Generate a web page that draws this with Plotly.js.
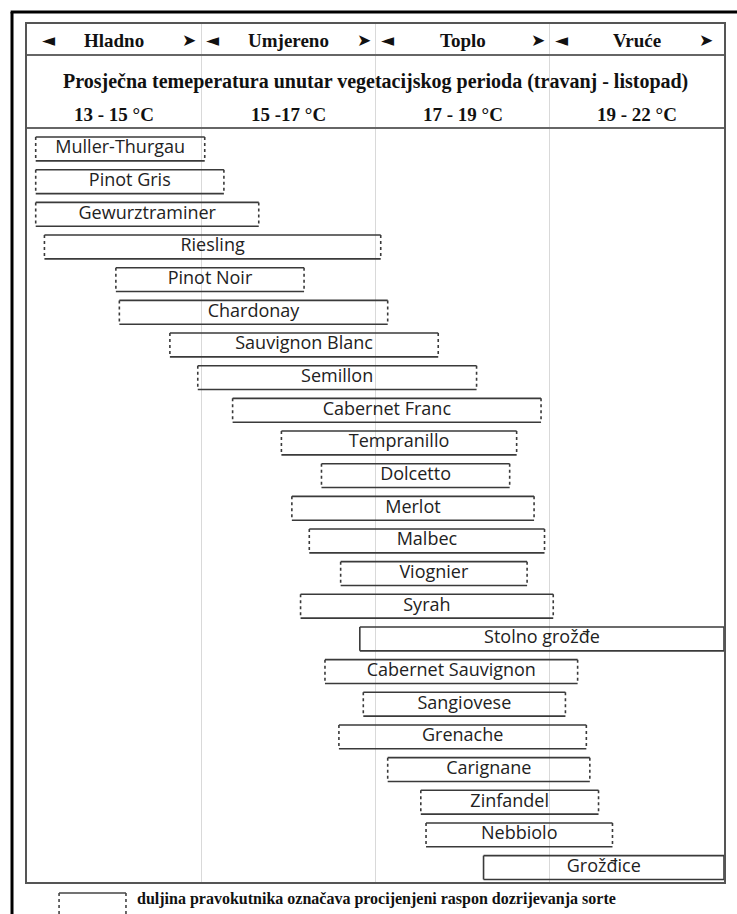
<!DOCTYPE html>
<html>
<head>
<meta charset="utf-8">
<script src="https://cdn.plot.ly/plotly-3.0.1.min.js"></script>
<style>
  body { margin: 0; background: #fff; }
  #chart { width: 737px; height: 914px; }
</style>
</head>
<body>
<div id="chart"></div>
<script>
// zones: one unit per zone on the x axis (0..4)
var zoneNames = ['Hladno', 'Umjereno', 'Toplo', 'Vruće'];
var zoneTemps = ['13 - 15 °C', '15 -17 °C', '17 - 19 °C', '19 - 22 °C'];

var sorte = ['Muller-Thurgau', 'Pinot Gris', 'Gewurztraminer', 'Riesling', 'Pinot Noir',
    'Chardonay', 'Sauvignon Blanc', 'Semillon', 'Cabernet Franc', 'Tempranillo',
    'Dolcetto', 'Merlot', 'Malbec', 'Viognier', 'Syrah', 'Stolno grožđe',
    'Cabernet Sauvignon', 'Sangiovese', 'Grenache', 'Carignane', 'Zinfandel',
    'Nebbiolo', 'Grožđice'];
var pocetak = [0.05, 0.05, 0.05, 0.10, 0.51, 0.53, 0.82, 0.98, 1.18, 1.46,
    1.69, 1.52, 1.62, 1.80, 1.57, 1.91, 1.71, 1.93, 1.79, 2.07, 2.26, 2.29, 2.62];
var kraj = [1.02, 1.13, 1.33, 2.03, 1.59, 2.07, 2.36, 2.58, 2.95, 2.81,
    2.77, 2.91, 2.97, 2.87, 3.02, 4.00, 3.16, 3.09, 3.21, 3.23, 3.28, 3.36, 4.00];
var stolno = ['Stolno grožđe', 'Grožđice'];

var h = 0.365;
var hx = [], hy = [], dx = [], dy = [], sx = [], sy = [], mid = [], idx = [];
for (var i = 0; i < sorte.length; i++) {
    var s = pocetak[i], e = kraj[i];
    hx.push(s, e, null, s, e, null);
    hy.push(i - h, i - h, null, i + h, i + h, null);
    if (stolno.indexOf(sorte[i]) >= 0) {
        sx.push(s, s, null, e, e, null);
        sy.push(i - h, i + h, null, i - h, i + h, null);
    } else {
        dx.push(s, s, null, e, e, null);
        dy.push(i - h, i + h, null, i - h, i + h, null);
    }
    mid.push((s + e) / 2);
    idx.push(i);
}

var rubovi = {
    x: hx, y: hy, mode: 'lines', type: 'scatter',
    line: {color: '#3a3a3a', width: 1.6}, hoverinfo: 'skip'
};
var tockaste = {
    x: dx, y: dy, mode: 'lines', type: 'scatter',
    line: {color: '#3a3a3a', width: 1.6, dash: 'dot'}, hoverinfo: 'skip'
};
var pune = {
    x: sx, y: sy, mode: 'lines', type: 'scatter',
    line: {color: '#3a3a3a', width: 1.6}, hoverinfo: 'skip'
};
var nazivi = {
    x: mid, y: idx, text: sorte, mode: 'text', type: 'scatter',
    textfont: {family: 'Open Sans', size: 18, color: '#222'},
    textposition: 'middle center'
};

var serif = {family: 'Liberation Serif', size: 19, color: '#111'};
var arrowFont = {family: 'DejaVu Sans', size: 17, color: '#111'};
var annotations = [];
for (var k = 0; k < 4; k++) {
    annotations.push({x: k + 0.5, y: 0.981, xref: 'x', yref: 'paper', yanchor: 'middle',
        text: '<b>' + zoneNames[k] + '</b>', showarrow: false, font: serif});
    annotations.push({x: k + 0.5, y: 0.894, xref: 'x', yref: 'paper', yanchor: 'middle',
        text: '<b>' + zoneTemps[k] + '</b>', showarrow: false, font: serif});
    annotations.push({x: k, y: 0.981, xref: 'x', yref: 'paper', yanchor: 'middle', text: '◄', xanchor: 'left',
        xshift: k === 0 ? 13 : 3, showarrow: false, font: arrowFont});
    annotations.push({x: k + 1, y: 0.981, xref: 'x', yref: 'paper', yanchor: 'middle', text: '➤', xanchor: 'right',
        xshift: k === 3 ? -9 : -3, showarrow: false, font: arrowFont});
}
annotations.push({x: 0.5, y: 0.9325, xref: 'paper', yref: 'paper', xanchor: 'center', yanchor: 'middle',
    text: '<b>Prosječna temeperatura unutar vegetacijskog perioda (travanj - listopad)</b>',
    showarrow: false, font: {family: 'Liberation Serif', size: 20, color: '#111'}});
annotations.push({x: 0.155, y: -0.0195, xref: 'paper', yref: 'paper', xanchor: 'left', yanchor: 'middle',
    text: '<b>duljina pravokutnika označava procijenjeni raspon dozrijevanja sorte</b>',
    showarrow: false, font: {family: 'Liberation Serif', size: 16, color: '#111'}});

var shapes = [
    // header separators
    {type: 'line', xref: 'paper', yref: 'paper', x0: 0, x1: 1, y0: 0.9639, y1: 0.9639, line: {color: '#666', width: 2}},
    {type: 'line', xref: 'paper', yref: 'paper', x0: 0, x1: 1, y0: 0.8788, y1: 0.8788, line: {color: '#666', width: 2}},
    // outer black frame
    {type: 'line', xref: 'paper', yref: 'paper', x0: -0.0215, x1: -0.0215, y0: 1.014, y1: -0.04, line: {color: '#000', width: 3}},
    {type: 'line', xref: 'paper', yref: 'paper', x0: -0.0235, x1: 1.02, y0: 1.014, y1: 1.014, line: {color: '#000', width: 3}},
    // legend sample box
    {type: 'line', xref: 'paper', yref: 'paper', x0: 0.046, x1: 0.142, y0: -0.0128, y1: -0.0128, line: {color: '#444', width: 1.6}},
    {type: 'line', xref: 'paper', yref: 'paper', x0: 0.046, x1: 0.046, y0: -0.0128, y1: -0.04, line: {color: '#444', width: 1.6, dash: 'dot'}},
    {type: 'line', xref: 'paper', yref: 'paper', x0: 0.142, x1: 0.142, y0: -0.0128, y1: -0.04, line: {color: '#444', width: 1.6, dash: 'dot'}}
];

var layout = {
    width: 737,
    height: 914,
    margin: {l: 27, r: 13, t: 24, b: 32},
    showlegend: false,
    paper_bgcolor: '#fff',
    plot_bgcolor: '#fff',
    xaxis: {
        range: [0, 4], tickvals: [1, 2, 3], showticklabels: false, ticks: '',
        showgrid: true, gridcolor: '#d9d9d9', gridwidth: 1, zeroline: false,
        showline: true, mirror: true, linecolor: '#555', linewidth: 2
    },
    yaxis: {
        range: [22.443, -3.827], showticklabels: false, ticks: '', showgrid: false, zeroline: false,
        showline: true, mirror: true, linecolor: '#555', linewidth: 2
    },
    annotations: annotations,
    shapes: shapes
};

Plotly.newPlot('chart', [rubovi, tockaste, pune, nazivi], layout, {displayModeBar: false});
</script>
</body>
</html>
